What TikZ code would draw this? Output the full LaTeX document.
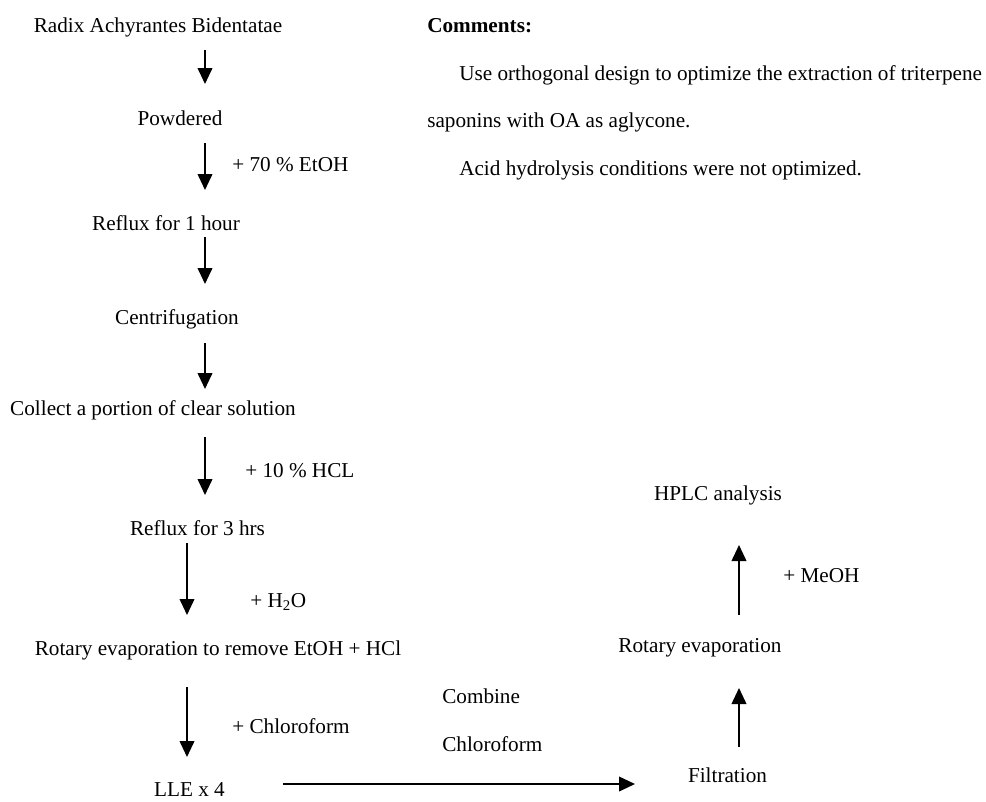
\documentclass[tikz,border=0pt]{standalone}
\usepackage{fontspec}
\setmainfont{Liberation Serif}
\usetikzlibrary{arrows.meta}
\begin{document}
\begin{tikzpicture}[x=0.75pt,y=-0.75pt,
  txt/.style={inner sep=0pt,anchor=base,font=\fontsize{15.9}{19}\selectfont},
  ltxt/.style={txt,anchor=base west},
  arr/.style={line width=1.35pt,-{Triangle[length=12pt,width=11pt]}}]
\useasboundingbox (0,0) rectangle (986,801);
% main column
\node[txt] (radix) at (158,32) {Radix Achyrantes Bidentatae};
\node[txt] (powd) at (180,125) {Powdered};
\node[ltxt] (etoh) at (232,171) {+ 70 \% EtOH};
\node[txt] (ref1) at (166,230) {Reflux for 1 hour};
\node[txt] (cent) at (177,324) {Centrifugation};
\node[txt] (coll) at (153,415) {Collect a portion of clear solution};
\node[ltxt] (hcl) at (245,477) {+ 10 \% HCL};
\node[txt] (ref3) at (197.5,535) {Reflux for 3 hrs};
\node[ltxt] (water) at (250,607) {+ H\textsubscript{2}O};
\node[txt] (rot1) at (218,655) {Rotary evaporation to remove EtOH + HCl};
\node[ltxt] (chl) at (232,733) {+ Chloroform};
\node[txt] (lle) at (189.5,796) {LLE x 4};
% right column
\node[ltxt] (comb) at (442,703) {Combine};
\node[ltxt] (comb2) at (442,751) {Chloroform};
\node[txt] (filt) at (727.5,782) {Filtration};
\node[txt] (rot2) at (700,652) {Rotary evaporation};
\node[ltxt] (meoh) at (783,582) {+ MeOH};
\node[txt] (hplc) at (718,500) {HPLC analysis};
% comments
\node[ltxt,font=\fontsize{15.9}{19}\selectfont\bfseries] (comm) at (427,32) {Comments:};
\node[ltxt] (c1) at (459,80) {Use orthogonal design to optimize the extraction of triterpene};
\node[ltxt] (c2) at (427,127) {saponins with OA as aglycone.};
\node[ltxt] (c3) at (459,175) {Acid hydrolysis conditions were not optimized.};
% arrow end points
\coordinate (a1s) at (205,50);  \coordinate (a1e) at (205,84);
\coordinate (a2s) at (205,143); \coordinate (a2e) at (205,190);
\coordinate (a3s) at (205,237); \coordinate (a3e) at (205,284);
\coordinate (a4s) at (205,343); \coordinate (a4e) at (205,389);
\coordinate (a5s) at (205,437); \coordinate (a5e) at (205,495);
\coordinate (a6s) at (187,543); \coordinate (a6e) at (187,615);
\coordinate (a7s) at (187,687); \coordinate (a7e) at (187,757);
\coordinate (hs) at (283,784);  \coordinate (he) at (635,784);
\coordinate (u1s) at (739,747); \coordinate (u1e) at (739,688);
\coordinate (u2s) at (739,615); \coordinate (u2e) at (739,545);
\draw[arr] (a1s) -- (a1e);
\draw[arr] (a2s) -- (a2e);
\draw[arr] (a3s) -- (a3e);
\draw[arr] (a4s) -- (a4e);
\draw[arr] (a5s) -- (a5e);
\draw[arr] (a6s) -- (a6e);
\draw[arr] (a7s) -- (a7e);
\draw[arr] (hs) -- (he);
\draw[arr] (u1s) -- (u1e);
\draw[arr] (u2s) -- (u2e);
\end{tikzpicture}
\end{document}
